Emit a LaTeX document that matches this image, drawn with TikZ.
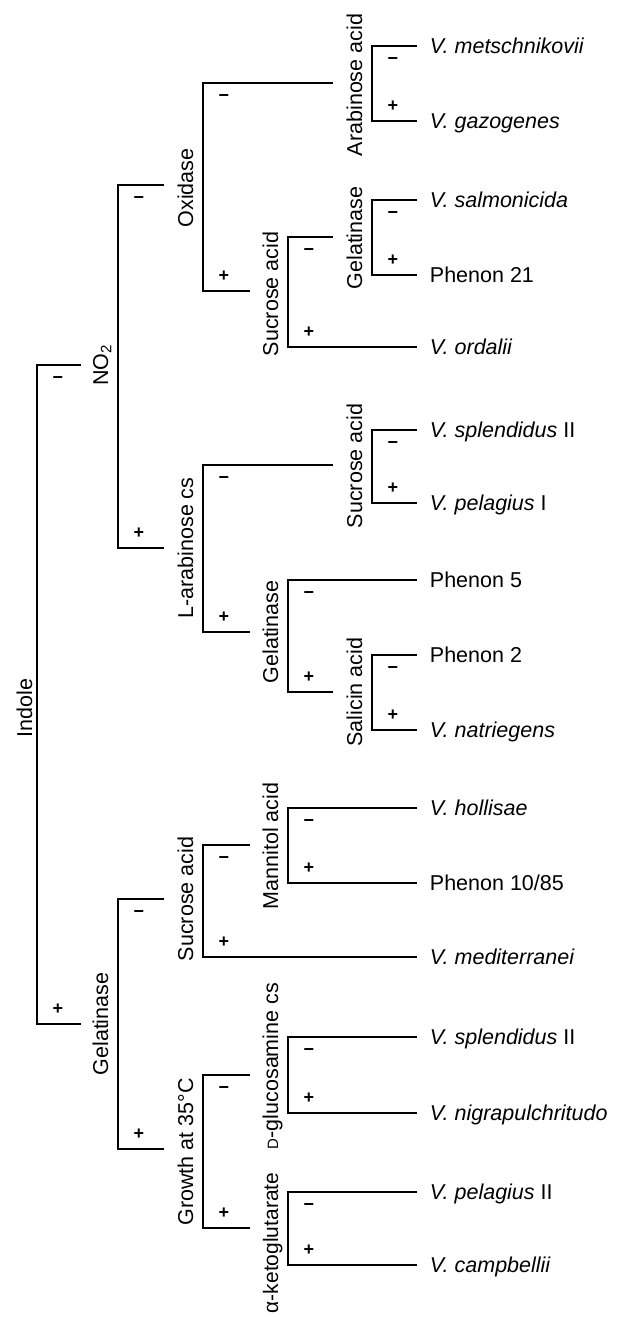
\documentclass[tikz,border=0pt]{standalone}
\usepackage{fontspec}
\setmainfont{Liberation Sans}
\begin{document}
\begin{tikzpicture}[x=1pt,y=-1pt,line width=1.9pt,
  test/.style={rotate=90,anchor=base,inner sep=0pt,font=\fontsize{21.5}{24}\selectfont},
  leaf/.style={anchor=mid west,inner xsep=12pt,inner ysep=0pt,font=\fontsize{21.5}{24}\selectfont},
  sgn/.style={inner sep=0pt,font=\fontsize{18}{18}\selectfont\bfseries}]
  \useasboundingbox (0,0) rectangle (630,1317);

  % test labels, bar ends and signs
  \node[test] (ind) at (32,708) {Indole};
  \coordinate (ind-t) at (37,365);  \coordinate (ind-b) at (37,1024);
  \node[sgn] (ind-m) at (58,380) {−};
  \node[sgn] (ind-p) at (58,1009) {+};

  \node[test] (no) at (108,365) {NO\textsubscript{2}};
  \coordinate (no-in) at (81,365);
  \coordinate (no-t) at (118,185);  \coordinate (no-b) at (118,548);
  \node[sgn] (no-m) at (139,200) {−};
  \node[sgn] (no-p) at (139,533) {+};

  \node[test] (gelA) at (108,1024) {Gelatinase};
  \coordinate (gelA-in) at (81,1024);
  \coordinate (gelA-t) at (118,899);  \coordinate (gelA-b) at (118,1149);
  \node[sgn] (gelA-m) at (139,914) {−};
  \node[sgn] (gelA-p) at (139,1134) {+};

  \node[test] (ox) at (193,188) {Oxidase};
  \coordinate (ox-in) at (164,185);
  \coordinate (ox-t) at (203,83);  \coordinate (ox-b) at (203,291);
  \node[sgn] (ox-m) at (224,98) {−};
  \node[sgn] (ox-p) at (224,276) {+};

  \node[test] (lara) at (193,548) {L-arabinose cs};
  \coordinate (lara-in) at (164,548);
  \coordinate (lara-t) at (203,465);  \coordinate (lara-b) at (203,632);
  \node[sgn] (lara-m) at (224,480) {−};
  \node[sgn] (lara-p) at (224,617) {+};

  \node[test] (sucA) at (193,899) {Sucrose acid};
  \coordinate (sucA-in) at (164,899);
  \coordinate (sucA-t) at (203,845);  \coordinate (sucA-b) at (203,957);
  \node[sgn] (sucA-m) at (224,860) {−};
  \node[sgn] (sucA-p) at (224,942) {+};

  \node[test] (grow) at (193,1152) {Growth at 35°C};
  \coordinate (grow-in) at (164,1149);
  \coordinate (grow-t) at (203,1075);  \coordinate (grow-b) at (203,1228);
  \node[sgn] (grow-m) at (224,1090) {−};
  \node[sgn] (grow-p) at (224,1213) {+};

  \node[test] (arab) at (362,85) {Arabinose acid};
  \coordinate (arab-in) at (333,83);
  \coordinate (arab-t) at (372,46);  \coordinate (arab-b) at (372,121);
  \node[sgn] (arab-m) at (393,61) {−};
  \node[sgn] (arab-p) at (393,106) {+};

  \node[test] (sucB) at (278,294) {Sucrose acid};
  \coordinate (sucB-in) at (250,291);
  \coordinate (sucB-t) at (288,237);  \coordinate (sucB-b) at (288,347);
  \node[sgn] (sucB-m) at (309,252) {−};
  \node[sgn] (sucB-p) at (309,332) {+};

  \node[test] (gelC) at (362,238) {Gelatinase};
  \coordinate (gelC-in) at (333,237);
  \coordinate (gelC-t) at (372,200);  \coordinate (gelC-b) at (372,275);
  \node[sgn] (gelC-m) at (393,215) {−};
  \node[sgn] (gelC-p) at (393,260) {+};

  \node[test] (sucC) at (362,466) {Sucrose acid};
  \coordinate (sucC-in) at (333,465);
  \coordinate (sucC-t) at (372,430);  \coordinate (sucC-b) at (372,503);
  \node[sgn] (sucC-m) at (393,445) {−};
  \node[sgn] (sucC-p) at (393,488) {+};

  \node[test] (gelB) at (278,632) {Gelatinase};
  \coordinate (gelB-in) at (250,632);
  \coordinate (gelB-t) at (288,580);  \coordinate (gelB-b) at (288,692);
  \node[sgn] (gelB-m) at (309,595) {−};
  \node[sgn] (gelB-p) at (309,677) {+};

  \node[test] (sal) at (362,692) {Salicin acid};
  \coordinate (sal-in) at (333,692);
  \coordinate (sal-t) at (372,655);  \coordinate (sal-b) at (372,730);
  \node[sgn] (sal-m) at (393,670) {−};
  \node[sgn] (sal-p) at (393,715) {+};

  \node[test] (mann) at (278,846) {Mannitol acid};
  \coordinate (mann-in) at (250,845);
  \coordinate (mann-t) at (288,808);  \coordinate (mann-b) at (288,883);
  \node[sgn] (mann-m) at (309,823) {−};
  \node[sgn] (mann-p) at (309,868) {+};

  \node[test] (gluc) at (278,1066) {{\fontsize{15}{15}\selectfont D}-glucosamine cs};
  \coordinate (gluc-in) at (250,1075);
  \coordinate (gluc-t) at (288,1037);  \coordinate (gluc-b) at (288,1113);
  \node[sgn] (gluc-m) at (309,1052) {−};
  \node[sgn] (gluc-p) at (309,1098) {+};

  \node[test,font=\fontsize{21}{23}\selectfont] (keto) at (278,1243) {α-ketoglutarate};
  \coordinate (keto-in) at (250,1228);
  \coordinate (keto-t) at (288,1192);  \coordinate (keto-b) at (288,1265);
  \node[sgn] (keto-m) at (309,1207) {−};
  \node[sgn] (keto-p) at (309,1250) {+};

  % leaves
  \node[leaf] (metsch) at (417,51) {\textit{V. metschnikovii}};
  \node[leaf] (gazo) at (417,126) {\textit{V. gazogenes}};
  \node[leaf] (salmo) at (417,205) {\textit{V. salmonicida}};
  \node[leaf] (ph21) at (417,280) {Phenon 21};
  \node[leaf] (ordal) at (417,352) {\textit{V. ordalii}};
  \node[leaf] (splenA) at (417,435) {\textit{V. splendidus} II};
  \node[leaf] (pelaI) at (417,508) {\textit{V. pelagius} I};
  \node[leaf] (ph5) at (417,585) {Phenon 5};
  \node[leaf] (ph2) at (417,660) {Phenon 2};
  \node[leaf] (natri) at (417,735) {\textit{V. natriegens}};
  \node[leaf] (holli) at (417,813) {\textit{V. hollisae}};
  \node[leaf] (ph1085) at (417,888) {Phenon 10/85};
  \node[leaf] (medit) at (417,962) {\textit{V. mediterranei}};
  \node[leaf] (splenB) at (417,1042) {\textit{V. splendidus} II};
  \node[leaf] (nigra) at (417,1118) {\textit{V. nigrapulchritudo}};
  \node[leaf] (pelaII) at (417,1197) {\textit{V. pelagius} II};
  \node[leaf] (campb) at (417,1270) {\textit{V. campbellii}};

  % brackets
  \draw (no-in) -- (ind-t) -- (ind-b) -- (gelA-in);
  \draw (ox-in) -- (no-t) -- (no-b) -- (lara-in);
  \draw (sucA-in) -- (gelA-t) -- (gelA-b) -- (grow-in);
  \draw (arab-in) -- (ox-t) -- (ox-b) -- (sucB-in);
  \draw (sucC-in) -- (lara-t) -- (lara-b) -- (gelB-in);
  \draw (mann-in) -- (sucA-t) -- (sucA-b) -- (medit.west |- sucA-b);
  \draw (gluc-in) -- (grow-t) -- (grow-b) -- (keto-in);
  \draw (metsch.west |- arab-t) -- (arab-t) -- (arab-b) -- (gazo.west |- arab-b);
  \draw (gelC-in) -- (sucB-t) -- (sucB-b) -- (ordal.west |- sucB-b);
  \draw (salmo.west |- gelC-t) -- (gelC-t) -- (gelC-b) -- (ph21.west |- gelC-b);
  \draw (splenA.west |- sucC-t) -- (sucC-t) -- (sucC-b) -- (pelaI.west |- sucC-b);
  \draw (ph5.west |- gelB-t) -- (gelB-t) -- (gelB-b) -- (sal-in);
  \draw (ph2.west |- sal-t) -- (sal-t) -- (sal-b) -- (natri.west |- sal-b);
  \draw (holli.west |- mann-t) -- (mann-t) -- (mann-b) -- (ph1085.west |- mann-b);
  \draw (splenB.west |- gluc-t) -- (gluc-t) -- (gluc-b) -- (nigra.west |- gluc-b);
  \draw (pelaII.west |- keto-t) -- (keto-t) -- (keto-b) -- (campb.west |- keto-b);
\end{tikzpicture}
\end{document}
